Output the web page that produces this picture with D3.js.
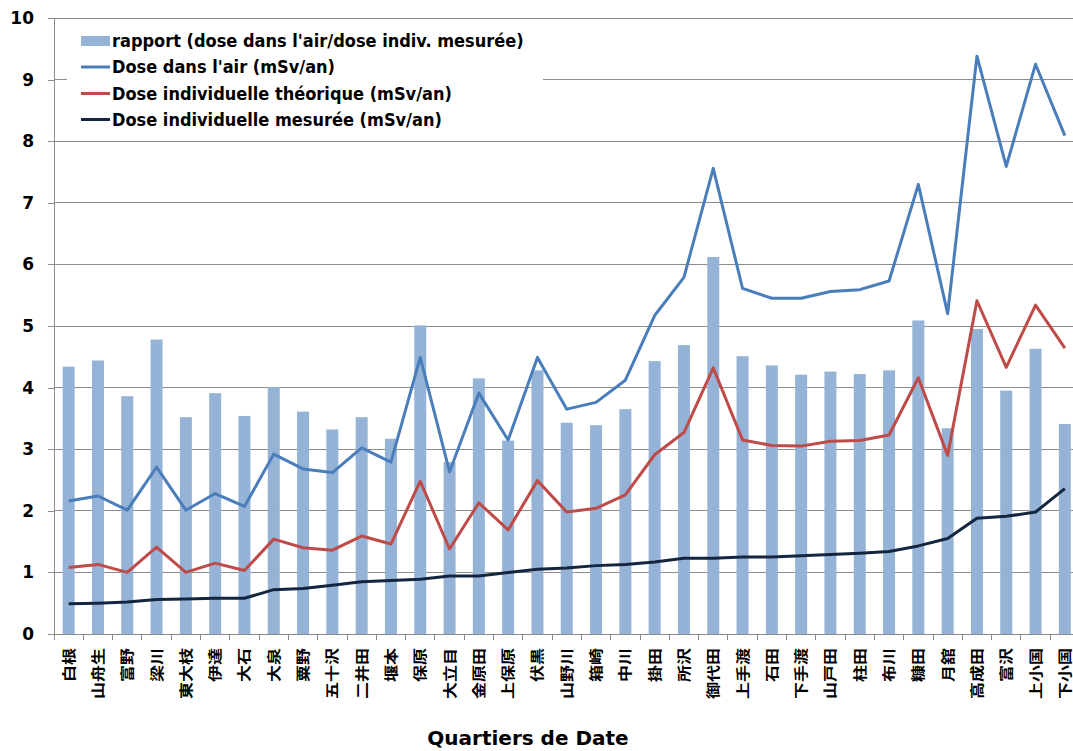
<!DOCTYPE html>
<html>
<head>
<meta charset="utf-8">
<script src="https://cdn.jsdelivr.net/npm/d3@7"></script>
<style>
  html, body { margin: 0; padding: 0; background: #fff; }
  svg { display: block; }
</style>
</head>
<body>
<svg id="chart" width="1073" height="751"></svg>
<script>
// Quartiers (districts) of Date
const quartiers = ["白根","山舟生","富野","梁川","東大枝","伊達","大石","大泉","粟野","五十沢",
  "二井田","堰本","保原","大立目","金原田","上保原","伏黒","山野川","箱崎","中川",
  "掛田","所沢","御代田","上手渡","石田","下手渡","山戸田","柱田","布川","糠田",
  "月舘","高成田","富沢","上小国","下小国"];

// ratio: air dose / measured individual dose
const rapport = [4.34,4.44,3.86,4.78,3.52,3.91,3.54,4.01,3.61,3.32,
  3.52,3.17,5.01,2.79,4.15,3.14,4.28,3.43,3.39,3.65,
  4.43,4.69,6.12,4.51,4.36,4.21,4.26,4.22,4.28,5.09,
  3.34,4.95,3.95,4.63,3.41];

// air dose (mSv/an)
const doseAir = [2.16,2.24,2.01,2.71,2.01,2.28,2.07,2.92,2.68,2.62,
  3.02,2.79,4.49,2.63,3.91,3.15,4.49,3.65,3.76,4.12,
  5.17,5.79,7.56,5.61,5.45,5.45,5.56,5.59,5.73,7.30,
  5.20,9.38,7.59,9.25,8.09];

// theoretical individual dose (mSv/an)
const doseTheorique = [1.08,1.13,1.00,1.41,1.00,1.15,1.03,1.54,1.40,1.36,
  1.59,1.46,2.48,1.38,2.13,1.69,2.49,1.98,2.04,2.26,
  2.91,3.27,4.32,3.15,3.06,3.05,3.13,3.14,3.23,4.16,
  2.90,5.41,4.33,5.34,4.64];

// measured individual dose (mSv/an)
const doseMesuree = [0.49,0.50,0.52,0.56,0.57,0.58,0.58,0.72,0.74,0.79,
  0.85,0.87,0.89,0.94,0.94,1.00,1.05,1.07,1.11,1.13,
  1.17,1.23,1.23,1.25,1.25,1.27,1.29,1.31,1.34,1.43,
  1.55,1.88,1.91,1.98,2.36];

const yTicks = [0,1,2,3,4,5,6,7,8,9,10];

const legendLabels = [
  "rapport (dose dans l'air/dose indiv. mesurée)",
  "Dose dans l'air (mSv/an)",
  "Dose individuelle théorique (mSv/an)",
  "Dose individuelle mesurée (mSv/an)"
];
const xTitle = "Quartiers de Date";

const colors = {
  bar: "#95B3D7",
  air: "#4A7EBB",
  theo: "#BE4B48",
  mes: "#14263F",
  grid: "#8C8C8C"
};

const svg = d3.select("#chart");
const plotLeft = 54, plotTop = 18, plotBottom = 634;
const step = 29.3;
const plotRight = plotLeft + step * quartiers.length;

const x = d3.scaleBand().domain(quartiers).range([plotLeft, plotRight]).paddingInner(0).paddingOuter(0);
const y = d3.scaleLinear().domain([0, 10]).range([plotBottom, plotTop]);
const cx = d => x(d) + x.bandwidth() / 2;

// horizontal gridlines
svg.append("g").selectAll("line").data(yTicks.slice(1)).join("line")
  .attr("x1", plotLeft).attr("x2", plotRight)
  .attr("y1", d => y(d)).attr("y2", d => y(d))
  .attr("stroke", colors.grid).attr("stroke-width", 1).attr("shape-rendering", "crispEdges");

// y axis
const yAxis = svg.append("g").attr("transform", `translate(${plotLeft},0)`)
  .call(d3.axisLeft(y).tickValues(yTicks).tickSize(6).tickPadding(14).tickFormat(d3.format("d")));
yAxis.select(".domain").attr("stroke", colors.grid).attr("shape-rendering", "crispEdges");
yAxis.selectAll(".tick line").attr("stroke", colors.grid).attr("shape-rendering", "crispEdges");
yAxis.selectAll(".tick text")
  .attr("font-family", "'DejaVu Sans', sans-serif").attr("font-weight", "bold")
  .attr("font-size", 17).attr("fill", "#000");

// bars
const barW = 12;
svg.append("g").selectAll("rect").data(quartiers).join("rect")
  .attr("x", d => cx(d) - barW / 2)
  .attr("width", barW)
  .attr("y", (d, i) => y(rapport[i]))
  .attr("height", (d, i) => y(0) - y(rapport[i]))
  .attr("fill", colors.bar);

// x axis baseline and boundary ticks
const xAxis = svg.append("g").attr("transform", `translate(0,${plotBottom})`)
  .call(d3.axisBottom(x).tickSize(0).tickFormat(""));
xAxis.select(".domain").attr("stroke", colors.grid).attr("shape-rendering", "crispEdges");
xAxis.selectAll(".tick").remove();
svg.append("g").selectAll("line").data(quartiers.concat([null])).join("line")
  .attr("x1", d => d === null ? plotRight : x(d))
  .attr("x2", d => d === null ? plotRight : x(d))
  .attr("y1", plotBottom).attr("y2", plotBottom + 6)
  .attr("stroke", colors.grid).attr("shape-rendering", "crispEdges");

// x labels, rotated to read bottom-to-top, glyphs slightly narrowed
svg.append("g").selectAll("text").data(quartiers).join("text")
  .attr("transform", d => `translate(${cx(d)},${plotBottom + 14}) rotate(-90) scale(1,0.82)`)
  .attr("text-anchor", "end")
  .attr("dy", "0.36em")
  .attr("font-family", "'Noto Sans CJK JP', sans-serif")
  .attr("font-weight", "bold")
  .attr("font-size", 17)
  .attr("fill", "#000")
  .text(d => d);

// lines
const series = [
  { values: doseAir, color: colors.air },
  { values: doseTheorique, color: colors.theo },
  { values: doseMesuree, color: colors.mes }
];
const line = d3.line().x(d => cx(d.q)).y(d => y(d.v));
svg.append("g").selectAll("path").data(series).join("path")
  .attr("d", s => line(quartiers.map((q, i) => ({ q, v: s.values[i] }))))
  .attr("fill", "none")
  .attr("stroke", s => s.color)
  .attr("stroke-width", 3)
  .attr("stroke-linejoin", "round");

// legend
const lg = svg.append("g");
lg.append("rect").attr("x", 67).attr("y", 26).attr("width", 476).attr("height", 108).attr("fill", "#fff");
const rowY = [41, 67, 93.5, 119.5];
lg.append("rect").attr("x", 81).attr("y", 36).attr("width", 29).attr("height", 10).attr("fill", colors.bar);
[colors.air, colors.theo, colors.mes].forEach((c, i) => {
  lg.append("line").attr("x1", 81).attr("x2", 110)
    .attr("y1", rowY[i + 1]).attr("y2", rowY[i + 1])
    .attr("stroke", c).attr("stroke-width", 3);
});
lg.selectAll("text").data(legendLabels).join("text")
  .attr("x", 112).attr("y", (d, i) => rowY[i])
  .attr("dy", "0.36em")
  .attr("font-family", "'DejaVu Sans Condensed', 'DejaVu Sans', sans-serif")
  .attr("font-weight", "bold")
  .attr("font-size", 18)
  .attr("fill", "#000")
  .text(d => d);

// x title
svg.append("text")
  .attr("x", 528).attr("y", 745)
  .attr("text-anchor", "middle")
  .attr("font-family", "'DejaVu Sans', sans-serif")
  .attr("font-weight", "bold")
  .attr("font-size", 20)
  .attr("fill", "#000")
  .text(xTitle);
</script>
</body>
</html>
